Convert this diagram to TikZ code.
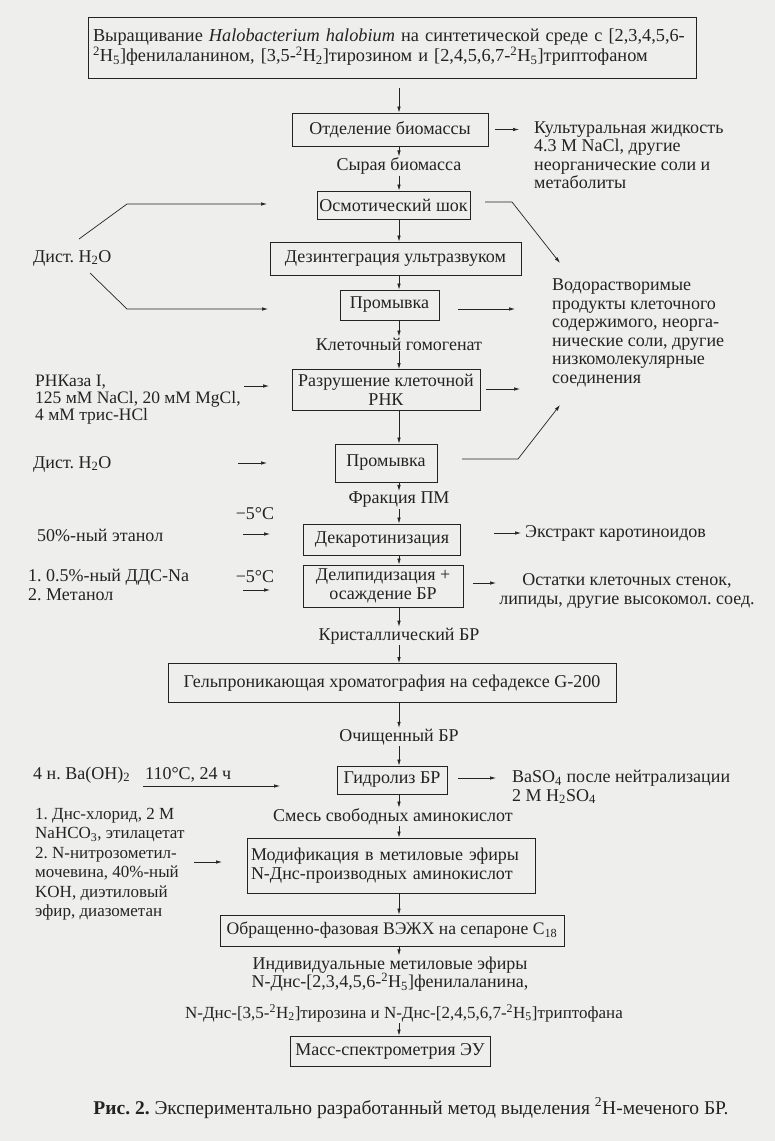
\documentclass[tikz,border=0pt]{standalone}
\usepackage{fontspec}
\setmainfont{Liberation Serif}
\usetikzlibrary{arrows.meta}
\definecolor{bgc}{RGB}{238,238,236}
\definecolor{ink}{RGB}{35,35,35}
\newcommand{\sbs}[1]{\textsubscript{#1}}
\newcommand{\sps}[1]{\textsuperscript{#1}}
\frenchspacing
\begin{document}
\begin{tikzpicture}[x=1pt,y=-1pt,
  every node/.style={font=\fontsize{18}{18.5}\selectfont, text=ink},
  pbox/.style={draw=ink, line width=0.8pt, inner sep=1pt, align=center},
  lbl/.style={inner sep=1pt, align=center},
  txt/.style={inner sep=0pt, align=left, anchor=west},
  arr/.style={draw=ink, line width=0.7pt, -{Latex[length=6pt,width=3.5pt]}},
  ln/.style={draw=ink, line width=0.7pt}]
\fill[bgc] (0,0) rectangle (775,1141);
\useasboundingbox (0,0) rectangle (775,1141);
\coordinate (ax) at (399,0);
% main boxes
\node[pbox, minimum width=608, minimum height=61, text width=598, align=left, font=\fontsize{18.3}{20}\selectfont] (top) at (392,47.5)
  {Выращивание \textit{Halobacterium halobium} на синтетической среде с [2,3,4,5,6-\\\sps{2}H\sbs{5}]фенилаланином, [3,5-\sps{2}H\sbs{2}]тирозином и [2,4,5,6,7-\sps{2}H\sbs{5}]триптофаном};
\node[pbox, minimum width=196, minimum height=33] (otd) at (390,129.5) {Отделение биомассы};
\node[lbl] (l1) at (399,166) {Сырая биомасса};
\node[pbox, minimum width=153, minimum height=28] (osm) at (393.5,205) {Осмотический шок};
\node[pbox, minimum width=251, minimum height=33] (dez) at (395.5,258.5) {Дезинтеграция ультразвуком};
\node[pbox, minimum width=99, minimum height=30] (pr1) at (389.5,305) {Промывка};
\node[lbl] (l2) at (399,344) {Клеточный гомогенат};
\node[pbox, minimum width=188, minimum height=41] (raz) at (386,390) {Разрушение клеточной\\РНК};
\node[pbox, minimum width=102, minimum height=38] (pr2) at (386,463) {Промывка};
\node[lbl] (l3) at (399,500) {Фракция ПМ};
\node[pbox, minimum width=157, minimum height=31] (dek) at (382,539.5) {Декаротинизация};
\node[pbox, minimum width=160, minimum height=42] (del) at (383,586) {Делипидизация +\\осаждение БР};
\node[lbl] (l4) at (399,636) {Кристаллический БР};
\node[pbox, minimum width=448, minimum height=39] (gel) at (392,683) {Гельпроникающая хроматография на сефадексе G-200};
\node[lbl] (l5) at (399,737) {Очищенный БР};
\node[pbox, minimum width=110, minimum height=28] (gid) at (392,780) {Гидролиз БР};
\node[lbl] (l6) at (393,817) {Смесь свободных аминокислот};
\node[pbox, minimum width=288, minimum height=55, text width=280, align=left] (mod) at (391,865.5) {Модификация в метиловые эфиры\\N-Днс-производных аминокислот};
\node[pbox, minimum width=344, minimum height=31, inner sep=0pt, font=\fontsize{17.6}{18.5}\selectfont] (obr) at (392,930.5) {Обращенно-фазовая ВЭЖХ на сепароне C\sbs{18}};
\node[lbl] (l7) at (390,974) {Индивидуальные метиловые эфиры\\N-Днс-[2,3,4,5,6-\sps{2}H\sbs{5}]фенилаланина,};
\node[lbl, font=\fontsize{17}{18.5}\selectfont] (l8) at (404,1013) {N-Днс-[3,5-\sps{2}H\sbs{2}]тирозина и N-Днс-[2,4,5,6,7-\sps{2}H\sbs{5}]триптофана};
\node[pbox, minimum width=200, minimum height=30] (mas) at (390,1051) {Масс-спектрометрия ЭУ};
% main axis arrows
\coordinate (a0) at (399,88);
\draw[arr] (a0) -- (ax |- otd.north);
\draw[arr] (ax |- otd.south) -- (ax |- l1.north);
\draw[arr] (ax |- l1.south) -- (ax |- osm.north);
\draw[arr] (ax |- osm.south) -- (ax |- dez.north);
\draw[arr] (ax |- dez.south) -- (ax |- pr1.north);
\draw[arr] (ax |- pr1.south) -- (ax |- l2.north);
\draw[arr] (ax |- l2.south) -- (ax |- raz.north);
\draw[arr] (ax |- raz.south) -- (ax |- pr2.north);
\draw[arr] (ax |- pr2.south) -- (ax |- l3.north);
\draw[arr] (ax |- l3.south) -- (ax |- dek.north);
\draw[arr] (ax |- dek.south) -- (ax |- del.north);
\draw[arr] (ax |- del.south) -- (ax |- l4.north);
\draw[arr] (ax |- l4.south) -- (ax |- gel.north);
\draw[arr] (ax |- gel.south) -- (ax |- l5.north);
\draw[arr] (ax |- l5.south) -- (ax |- gid.north);
\draw[arr] (ax |- gid.south) -- (ax |- l6.north);
\draw[arr] (ax |- l6.south) -- (ax |- mod.north);
\draw[arr] (ax |- mod.south) -- (ax |- obr.north);
\draw[arr] (ax |- obr.south) -- (ax |- l7.north);
\draw[arr] (ax |- l8.south) -- (ax |- mas.north);
% right side
\node[txt] (kul) at (534,155) {Культуральная жидкость\\4.3 M NaCl, другие\\неорганические соли и\\метаболиты};
\coordinate (k1) at (495,129.5); \coordinate (k2) at (519,129.5);
\draw[arr] (k1) -- (k2);
\node[txt] (vod) at (552,333) {Водорастворимые\\продукты клеточного\\содержимого, неорга-\\нические соли, другие\\низкомолекулярные\\соединения};
\coordinate (o1) at (485,202); \coordinate (o2) at (512,202); \coordinate (o3) at (560,263);
\draw[arr] (o1) -- (o2) -- (o3);
\coordinate (p1) at (458,309); \coordinate (p2) at (515,309);
\draw[arr] (p1) -- (p2);
\coordinate (r1) at (486,389); \coordinate (r2) at (520,389);
\draw[arr] (r1) -- (r2);
\coordinate (q1) at (462,459); \coordinate (q2) at (518,459); \coordinate (q3) at (560,405);
\draw[arr] (q1) -- (q2) -- (q3);
\coordinate (d1) at (494,533); \coordinate (d2) at (521,533);
\draw[arr] (d1) -- (d2);
\node[txt] (ekst) at (525,533) {Экстракт каротиноидов};
\coordinate (e1) at (473,583); \coordinate (e2) at (496,583);
\draw[arr] (e1) -- (e2);
\node[lbl] (ost) at (627,591) {Остатки клеточных стенок,\\липиды, другие высокомол. соед.};
\coordinate (g1) at (458,778); \coordinate (g2) at (496,778);
\draw[arr] (g1) -- (g2);
\node[txt] (baso) at (512,787) {BaSO\sbs{4} после нейтрализации\\2 M H\sbs{2}SO\sbs{4}};
% left side
\node[txt] (dist1) at (33,258) {Дист. H\sbs{2}O};
\coordinate (u1) at (79,239); \coordinate (u2) at (127,204); \coordinate (u3) at (267,204);
\draw[arr] (u1) -- (u2) -- (u3);
\coordinate (w1) at (90,273); \coordinate (w2) at (127,309); \coordinate (w3) at (268,309);
\draw[arr] (w1) -- (w2) -- (w3);
\node[txt, font=\fontsize{17.5}{17}\selectfont] (rnk) at (35,400) {РНКаза I,\\125 мМ NaCl, 20 мМ MgCl,\\4 мМ трис-HCl};
\coordinate (n1) at (244,386); \coordinate (n2) at (269,386);
\draw[arr] (n1) -- (n2);
\node[txt] (dist2) at (33,464) {Дист. H\sbs{2}O};
\coordinate (m1) at (238,463); \coordinate (m2) at (267,463);
\draw[arr] (m1) -- (m2);
\node[lbl] (t1) at (255,514) {−5°C};
\node[txt] (eth) at (37,535) {50\%-ный этанол};
\coordinate (h1) at (243,534); \coordinate (h2) at (270,534);
\draw[arr] (h1) -- (h2);
\node[txt] (dds) at (28,585) {1. 0.5\%-ный ДДС-Na\\2. Метанол};
\node[lbl] (t2) at (255,577) {−5°C};
\coordinate (j1) at (243,590); \coordinate (j2) at (270,590);
\draw[arr] (j1) -- (j2);
\node[txt] (baoh) at (33,775) {4 н. Ba(OH)\sbs{2}};
\node[txt] (tc) at (145,775) {110°C, 24 ч};
\coordinate (b1) at (143,786); \coordinate (b2) at (280,786);
\draw[arr] (b1) -- (b2);
\node[txt, font=\fontsize{17}{19.5}\selectfont] (dns) at (35,864) {1. Днс-хлорид, 2 М\\NaHCO\sbs{3}, этилацетат\\2. N-нитрозометил-\\мочевина, 40\%-ный\\KOH, диэтиловый\\эфир, диазометан};
\coordinate (c1) at (194,862); \coordinate (c2) at (222,862);
\draw[arr] (c1) -- (c2);
% caption
\node[lbl, font=\fontsize{19.5}{20}\selectfont] (cap) at (411,1108) {\textbf{Рис. 2.} Экспериментально разработанный метод выделения \sps{2}H-меченого БР.};
\end{tikzpicture}
\end{document}
